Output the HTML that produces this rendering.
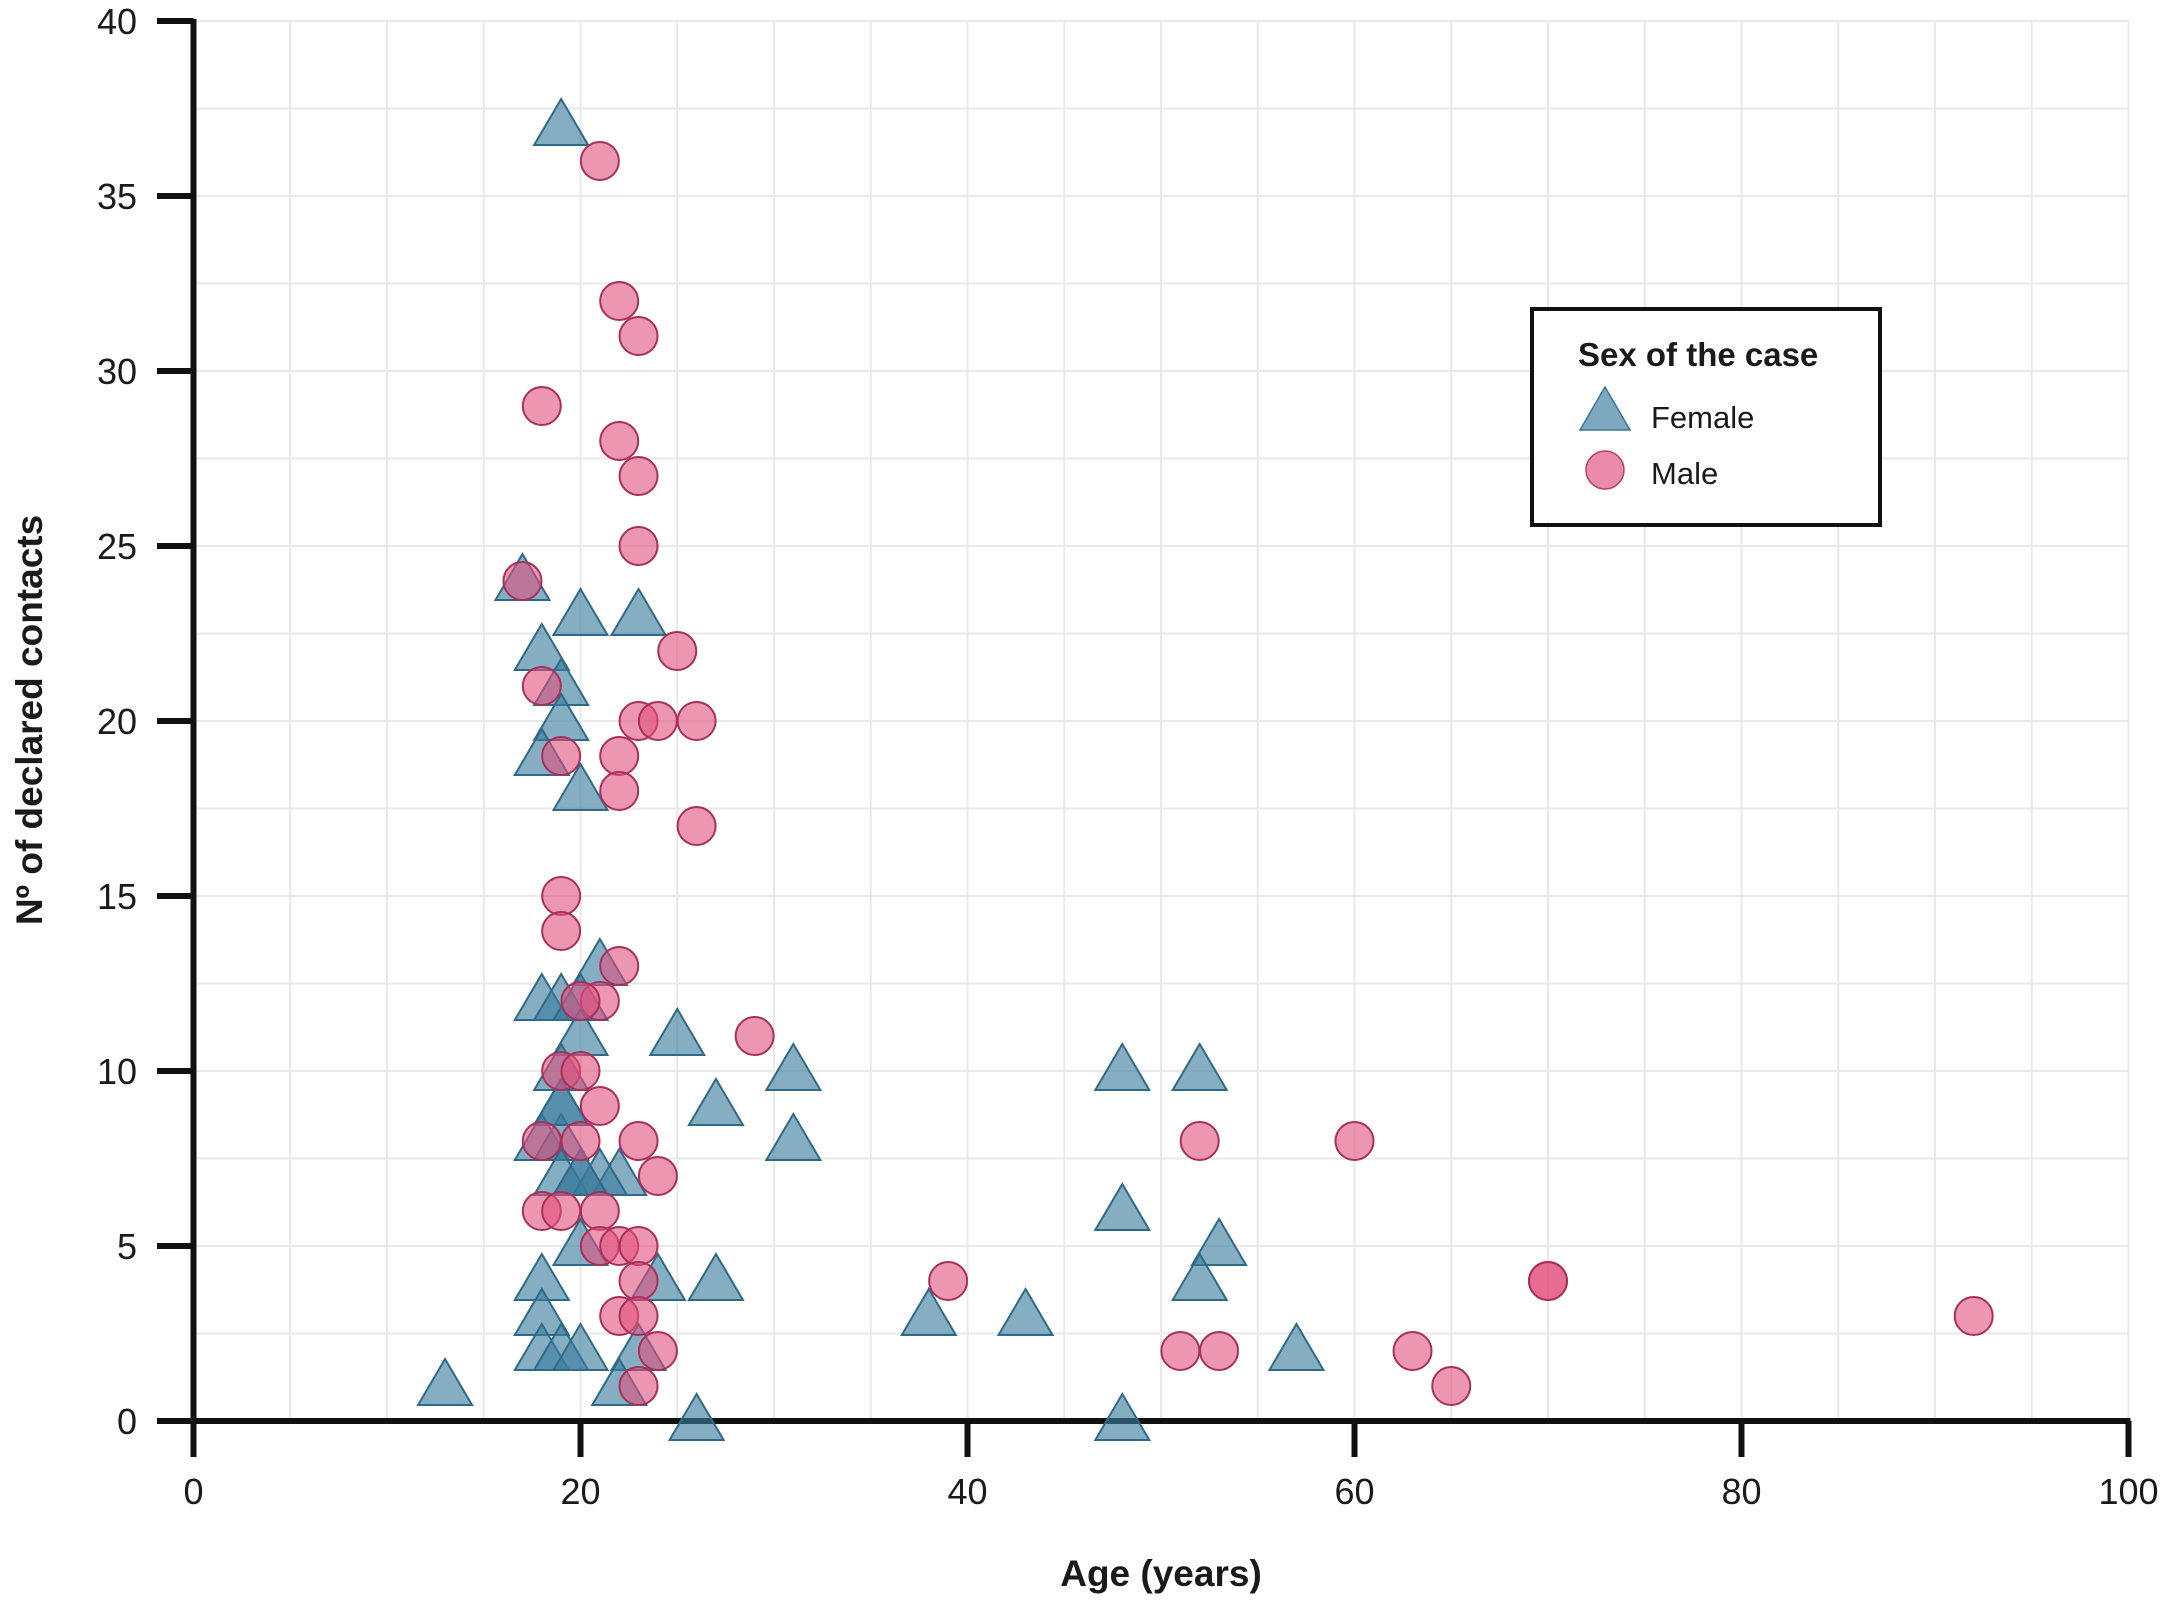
<!DOCTYPE html>
<html><head><meta charset="utf-8"><style>
html,body{margin:0;padding:0;background:#fff;}
svg{display:block;font-family:"Liberation Sans",Arial,sans-serif;}
</style></head><body>
<svg id="chart" width="2167" height="1604" viewBox="0 0 2167 1604" xmlns="http://www.w3.org/2000/svg">
<g id="grid"></g>
<g id="axes"></g>
<g id="points"></g>
<text x="1161" y="1586" text-anchor="middle" font-size="37" font-weight="bold" fill="#1a1a1a">Age (years)</text>
<text x="0" y="0" transform="translate(42,720) rotate(-90)" text-anchor="middle" font-size="37" font-weight="bold" fill="#1a1a1a">Nº of declared contacts</text>
<g>
<rect x="1532" y="309" width="348" height="216" fill="#fff" stroke="#111" stroke-width="4"/>
<text x="1578" y="366" font-size="33" font-weight="bold" fill="#1a1a1a">Sex of the case</text>
<polygon points="1605,387 1630,430 1580,430" fill="rgba(80,140,170,0.75)" stroke="#3d7592" stroke-width="1.5"/>
<text x="1651" y="428" font-size="31" fill="#1a1a1a">Female</text>
<circle cx="1605" cy="470" r="19" fill="rgba(230,110,150,0.8)" stroke="#b3406a" stroke-width="1.5"/>
<text x="1651" y="484" font-size="31" fill="#1a1a1a">Male</text>
</g>
</svg>
<script>
const xTicks = [0, 20, 40, 60, 80, 100];
const yTicks = [0, 5, 10, 15, 20, 25, 30, 35, 40];
const femaleAge = [19,17,20,23,18,19,19,18,20,21,18,19,20,20,25,19,31,27,19,18,19,31,20,19,22,21,20,18,24,27,18,23,38,43,18,19,20,22,13,26,48,52,48,53,52,57,48,19,20];
const femaleContacts = [37,24,23,23,22,21,20,19,18,13,12,12,12,11,11,10,10,9,9,8,8,8,7,7,7,7,5,4,4,4,3,2,3,3,2,2,2,1,1,0,10,10,6,5,4,2,0,9,7];
const maleAge = [21,22,23,18,22,23,23,17,25,18,23,24,26,19,22,22,26,19,19,22,21,20,29,19,20,21,20,23,52,60,24,18,19,21,21,22,23,23,39,70,70,22,23,24,51,53,63,23,65,92,18];
const maleContacts = [36,32,31,29,28,27,25,24,22,21,20,20,20,19,19,18,17,15,14,13,12,12,11,10,10,9,8,8,8,8,7,6,6,6,5,5,5,4,4,4,4,3,3,2,2,2,2,1,1,3,8];

const NS = "http://www.w3.org/2000/svg";
const X0 = 193.5, X1 = 2128.5, Y0 = 1421, Y1 = 21;
function xs(v){ return X0 + (v/100)*(X1-X0); }
function ys(v){ return Y0 - (v/40)*(Y0-Y1); }
function mk(tag, attrs, parent){ const e=document.createElementNS(NS,tag); for(const k in attrs) e.setAttribute(k,attrs[k]); parent.appendChild(e); return e; }

const grid = document.getElementById('grid');
for (let v=5; v<=100; v+=5){
  const l = mk('line',{x1:xs(v),x2:xs(v),y1:Y1,y2:Y0,stroke:'#e9e9e9','stroke-width':2},grid);
  
  
}
for (let v=2.5; v<=40; v+=2.5){
  const l = mk('line',{x1:X0,x2:X1,y1:ys(v),y2:ys(v),stroke:'#e9e9e9','stroke-width':2},grid);
  
  
}

const axes = document.getElementById('axes');
const xa = mk('line',{x1:157,x2:X1+2,y1:Y0,y2:Y0,stroke:'#111','stroke-width':6},axes);


const ya = mk('line',{x1:X0,x2:X0,y1:Y1-2,y2:Y0+36,stroke:'#111','stroke-width':6},axes);


xTicks.forEach(v=>{
  const t = mk('line',{x1:xs(v),x2:xs(v),y1:Y0,y2:Y0+36,stroke:'#111','stroke-width':6},axes);
  
  
  const tx = mk('text',{x:xs(v),y:Y0+83,'text-anchor':'middle','font-size':36,fill:'#1a1a1a'},axes);
  tx.textContent = v;
  
  
});
yTicks.forEach(v=>{
  const t = mk('line',{x1:157,x2:X0,y1:ys(v),y2:ys(v),stroke:'#111','stroke-width':6},axes);
  
  
  const tx = mk('text',{x:137,y:ys(v)+13,'text-anchor':'end','font-size':36,fill:'#1a1a1a'},axes);
  tx.textContent = v;
  
  
});

const pts = document.getElementById('points');
femaleAge.forEach((a,i)=>{
  const cx = xs(a), cy = ys(femaleContacts[i]);
  const p = mk('polygon',{points:`${cx},${cy-27} ${cx+27},${cy+19} ${cx-27},${cy+19}`,fill:'rgba(60,125,158,0.62)',stroke:'#2f6a88','stroke-width':2},pts);
  
  
});
maleAge.forEach((a,i)=>{
  const c = mk('circle',{cx:xs(a),cy:ys(maleContacts[i]),r:19,fill:'rgba(225,80,125,0.6)',stroke:'#a8305a','stroke-width':2},pts);
  
  
});
</script>
</body></html>
